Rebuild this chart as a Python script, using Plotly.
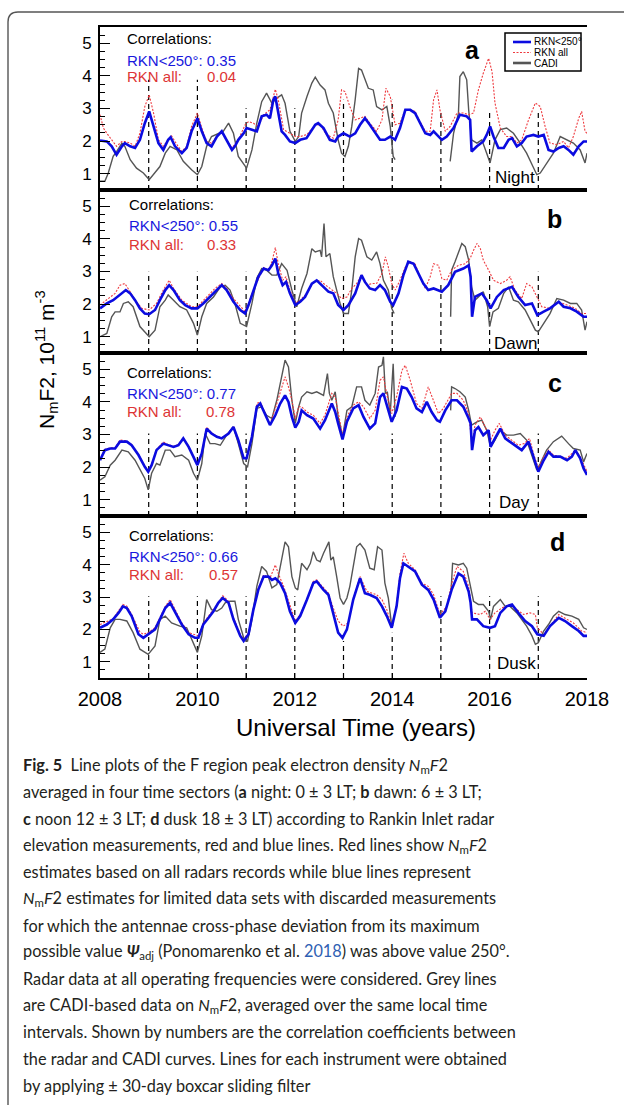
import plotly.graph_objects as go

W, H = 624, 1105

# ---------------- panel (a): night sector ----------------
A_RKN_T = [2008.00, 2008.14, 2008.24, 2008.34, 2008.45, 2008.51, 2008.62, 2008.72, 2008.82, 2008.92,
           2009.01, 2009.10, 2009.20, 2009.30, 2009.40, 2009.45, 2009.54, 2009.68, 2009.78, 2009.88,
           2010.00, 2010.09, 2010.19, 2010.29, 2010.40, 2010.50, 2010.60, 2010.71, 2010.77, 2010.84, 2010.95,
           2011.01, 2011.12, 2011.22, 2011.32, 2011.42, 2011.49, 2011.56, 2011.60, 2011.66, 2011.73, 2011.80, 2011.90,
           2012.01, 2012.11, 2012.24, 2012.42, 2012.48, 2012.59, 2012.72, 2012.83, 2012.89,
           2013.00, 2013.13, 2013.24, 2013.34, 2013.44, 2013.54, 2013.65, 2013.75, 2013.85, 2013.96,
           2014.06, 2014.16, 2014.27, 2014.37, 2014.47, 2014.57, 2014.68, 2014.78, 2014.85, 2014.92,
           2015.02, 2015.12, 2015.26, 2015.39, 2015.53, 2015.60, 2015.63, 2015.74, 2015.87, 2015.94,
           2016.01, 2016.08, 2016.18, 2016.29, 2016.39, 2016.46, 2016.56, 2016.66, 2016.76, 2016.90,
           2017.00, 2017.11, 2017.21, 2017.31, 2017.42, 2017.52, 2017.62, 2017.72, 2017.83, 2017.93,
           2018.00]
A_RKN_V = [2.02, 1.99, 1.84, 1.58, 1.84, 1.94, 1.84, 1.79, 2.04, 2.55,
           2.91, 2.45, 1.94, 1.73, 2.04, 2.12, 1.84, 1.63, 1.79, 2.30,
           2.70, 2.30, 1.94, 1.84, 2.14, 2.30, 2.04, 1.73, 1.84, 2.04, 2.24,
           2.40, 2.35, 2.30, 2.76, 2.81, 2.70, 3.27, 3.37, 2.86, 2.30, 2.19, 1.99,
           1.94, 2.04, 2.09, 2.50, 2.55, 2.40, 2.04, 1.99, 2.14,
           2.24, 2.14, 2.24, 2.50, 2.70, 2.50, 2.24, 2.04, 2.04, 2.14,
           2.04, 2.40, 2.96, 2.96, 2.86, 2.55, 2.24, 2.19, 2.30, 2.19,
           2.04, 2.14, 2.40, 2.81, 2.76, 2.65, 1.68, 1.84, 1.99, 2.19,
           2.45, 2.14, 1.79, 1.79, 2.04, 2.09, 1.84, 1.94, 2.14, 2.19,
           2.14, 2.19, 1.73, 1.68, 1.79, 1.84, 1.73, 1.58, 1.84, 1.99,
           1.99]

A_ALL_T = [2008.00, 2008.07, 2008.14, 2008.24, 2008.34, 2008.45, 2008.51, 2008.62, 2008.72, 2008.82, 2008.92,
           2009.01, 2009.10, 2009.20, 2009.30, 2009.40, 2009.47, 2009.58, 2009.68, 2009.78, 2009.88,
           2010.00, 2010.09, 2010.19, 2010.29, 2010.40, 2010.50, 2010.60, 2010.71, 2010.84, 2010.98,
           2011.05, 2011.15, 2011.25, 2011.36, 2011.49, 2011.60, 2011.66, 2011.77, 2011.90,
           2012.01, 2012.11, 2012.25, 2012.42, 2012.52, 2012.65, 2012.79, 2012.89, 2012.96,
           2013.03, 2013.13, 2013.24, 2013.34, 2013.44, 2013.54, 2013.68, 2013.79, 2013.87, 2013.96,
           2014.06, 2014.16, 2014.27, 2014.37, 2014.47, 2014.57, 2014.68, 2014.78, 2014.85, 2014.92, 2014.98,
           2015.09, 2015.19, 2015.33, 2015.46, 2015.57, 2015.67, 2015.77, 2015.87, 2015.98,
           2016.05, 2016.11, 2016.22, 2016.35, 2016.46, 2016.56, 2016.66, 2016.80, 2016.94,
           2017.04, 2017.14, 2017.24, 2017.38, 2017.52, 2017.62, 2017.72, 2017.83, 2017.89, 2017.96,
           2018.00]
A_ALL_V = [2.81, 2.40, 2.24, 2.04, 1.84, 1.99, 1.99, 1.94, 1.84, 2.24, 3.06,
           3.42, 2.86, 2.04, 1.84, 2.04, 2.16, 1.89, 1.68, 1.84, 2.45,
           2.86, 2.40, 1.99, 1.94, 2.14, 2.30, 2.04, 1.79, 2.04, 2.50,
           2.60, 2.55, 2.45, 2.81, 2.96, 3.59, 3.27, 2.35, 2.24,
           2.14, 2.14, 2.20, 2.50, 2.50, 2.20, 2.09, 2.65, 3.57,
           3.52, 3.06, 2.65, 2.70, 2.76, 2.55, 2.30, 2.65, 3.62, 3.37,
           2.50, 2.55, 2.96, 2.96, 2.91, 2.60, 2.30, 2.30, 3.27, 3.57, 2.96,
           2.30, 2.45, 2.86, 2.86, 2.81, 2.86, 3.57, 4.08, 4.54,
           4.13, 3.17, 2.40, 2.14, 2.14, 1.94, 2.04, 2.65, 3.17,
           3.06, 2.45, 1.94, 1.89, 1.99, 1.79, 2.14, 2.70, 2.91, 2.30,
           2.24]

A_CADI_T = [2008.00, 2008.10, 2008.17, 2008.27, 2008.34, 2008.45, 2008.51, 2008.62, 2008.75, 2008.89,
            2009.01, 2009.13, 2009.23, 2009.34, 2009.44, 2009.58, 2009.71, 2009.88,
            2010.00, 2010.09, 2010.19, 2010.29, 2010.43, 2010.53, 2010.64, 2010.74, 2010.84, 2010.95,
            2011.01, 2011.12, 2011.22, 2011.32, 2011.42, 2011.53, 2011.63, 2011.73, 2011.80, 2011.90,
            2012.01, 2012.08, 2012.14, 2012.25, 2012.35, 2012.42, 2012.52, 2012.62, 2012.69, 2012.79, 2012.89, 2012.96,
            2013.03, 2013.10, 2013.17, 2013.24, 2013.31, 2013.37, 2013.44, 2013.51, 2013.61, 2013.68, 2013.79, 2013.89, 2013.96,
            2014.02, 2014.06, 2014.07,
            2015.19, 2015.26, 2015.36, 2015.39, 2015.46, 2015.53, 2015.57, 2015.63, 2015.74, 2015.84, 2015.94,
            2016.01, 2016.11, 2016.22, 2016.35, 2016.49, 2016.63, 2016.76, 2016.87, 2016.97,
            2017.04, 2017.17, 2017.31, 2017.45, 2017.59, 2017.72, 2017.86, 2017.96,
            2018.00]
A_CADI_V = [0.77, 0.77, 1.02, 1.53, 1.68, 1.94, 1.84, 1.43, 1.17, 1.02,
            0.82, 1.02, 1.22, 1.63, 1.84, 1.73, 1.38, 1.12,
            0.97, 1.22, 1.84, 2.14, 2.24, 2.30, 2.55, 2.24, 1.53, 1.28,
            1.17, 1.73, 2.55, 3.21, 3.47, 3.16, 3.32, 3.42, 3.16, 2.30,
            1.99, 2.14, 2.86, 3.37, 3.78, 3.96, 3.72, 3.57, 3.16, 2.86, 2.04, 1.63,
            1.53, 1.84, 2.45, 3.27, 4.23, 4.18, 3.88, 3.62, 3.57, 3.06, 2.96, 3.06, 2.45,
            1.53, 1.43, None,
            1.38, 2.24, 2.86, 3.98, 4.13, 3.88, 2.96, 2.04, 1.94, 2.04, 1.63,
            1.33, 2.04, 2.35, 2.40, 2.24, 1.94, 1.63, 1.28, 0.97,
            1.02, 1.33, 1.63, 2.14, 2.04, 1.94, 1.73, 1.33,
            1.63]

# ---------------- panel (b): dawn sector ----------------
B_RKN_T = [2008.00, 2008.14, 2008.27, 2008.41, 2008.53, 2008.62, 2008.72, 2008.82, 2008.92,
           2009.01, 2009.13, 2009.23, 2009.34, 2009.42, 2009.51, 2009.64, 2009.75, 2009.88,
           2010.00, 2010.12, 2010.26, 2010.40, 2010.50, 2010.60, 2010.74, 2010.88, 2010.98,
           2011.05, 2011.15, 2011.25, 2011.36, 2011.46, 2011.53, 2011.60, 2011.66, 2011.75, 2011.82, 2011.90,
           2012.01, 2012.11, 2012.21, 2012.35, 2012.45, 2012.59, 2012.69, 2012.79, 2012.89,
           2013.00, 2013.10, 2013.24, 2013.37, 2013.44, 2013.54, 2013.65, 2013.75, 2013.85, 2013.96,
           2014.02, 2014.13, 2014.23, 2014.33, 2014.44, 2014.54, 2014.64, 2014.74, 2014.85,
           2015.02, 2015.15, 2015.29, 2015.46, 2015.57, 2015.61, 2015.64, 2015.70, 2015.84, 2015.94,
           2016.02, 2016.15, 2016.29, 2016.46, 2016.59, 2016.73, 2016.87, 2016.98,
           2017.11, 2017.24, 2017.42, 2017.52, 2017.66, 2017.79, 2017.93,
           2018.00]
B_RKN_V = [1.87, 2.02, 2.12, 2.28, 2.43, 2.33, 2.12, 1.87, 1.71,
           1.69, 1.82, 2.12, 2.43, 2.58, 2.43, 2.12, 1.97, 1.87,
           1.87, 2.02, 2.22, 2.43, 2.58, 2.43, 2.07, 1.82, 1.71,
           1.97, 2.43, 2.84, 3.09, 3.04, 3.19, 3.40, 2.94, 2.58, 2.68, 2.33,
           1.97, 2.07, 2.22, 2.63, 2.73, 2.53, 2.38, 2.33, 1.97,
           1.82, 1.97, 2.33, 2.89, 2.68, 2.48, 2.43, 2.58, 2.43, 2.07,
           1.97, 2.33, 2.89, 3.30, 3.24, 2.94, 2.63, 2.43, 2.48,
           2.38, 2.58, 2.99, 3.09, 3.19, 2.84, 1.61, 2.22, 2.33, 2.12,
           1.87, 2.22, 2.43, 2.53, 2.22, 1.97, 2.02, 1.66,
           1.77, 1.87, 2.07, 1.92, 1.87, 1.77, 1.61,
           1.61]

B_ALL_T = [2008.00, 2008.14, 2008.31, 2008.41, 2008.51, 2008.62, 2008.72, 2008.86,
           2009.01, 2009.16, 2009.30, 2009.42, 2009.51, 2009.68, 2009.88,
           2010.00, 2010.19, 2010.36, 2010.50, 2010.60, 2010.74, 2010.98,
           2011.15, 2011.36, 2011.46, 2011.53, 2011.60, 2011.66, 2011.75, 2011.82, 2011.90,
           2012.01, 2012.11, 2012.25, 2012.38, 2012.52, 2012.59, 2012.72, 2012.86, 2012.96,
           2013.07, 2013.17, 2013.27, 2013.37, 2013.48, 2013.58, 2013.68, 2013.79, 2013.86, 2013.92, 2013.99,
           2014.06, 2014.16, 2014.27, 2014.37, 2014.47, 2014.57, 2014.68, 2014.78, 2014.85, 2014.95,
           2015.02, 2015.12, 2015.22, 2015.36, 2015.50, 2015.60, 2015.67, 2015.74, 2015.81, 2015.87, 2015.98,
           2016.08, 2016.22, 2016.35, 2016.42, 2016.52, 2016.66, 2016.76, 2016.87, 2016.97,
           2017.07, 2017.24, 2017.42, 2017.59, 2017.76, 2017.89,
           2018.00]
B_ALL_V = [1.97, 2.12, 2.33, 2.58, 2.63, 2.38, 2.12, 1.87,
           1.82, 2.02, 2.43, 2.73, 2.48, 2.12, 1.92,
           1.92, 2.22, 2.48, 2.63, 2.48, 2.17, 1.77,
           2.43, 3.12, 3.04, 3.30, 3.73, 3.24, 2.73, 2.84, 2.43,
           2.02, 2.12, 2.33, 2.68, 2.73, 2.63, 2.48, 2.33, 2.17,
           2.22, 2.48, 2.63, 2.89, 2.58, 2.63, 2.63, 2.94, 3.45, 3.14, 2.63,
           2.43, 2.73, 3.14, 3.30, 3.24, 2.84, 2.48, 2.84, 3.24, 3.19,
           2.78, 2.73, 3.04, 3.19, 3.24, 3.40, 3.65, 3.86, 3.70, 3.35, 3.04,
           2.73, 2.63, 2.73, 2.84, 2.43, 2.17, 2.63, 2.53, 2.22,
           1.92, 1.87, 2.07, 1.97, 1.87, 1.71,
           1.71]

B_CADI_T = [2008.00, 2008.14, 2008.24, 2008.31, 2008.41, 2008.48, 2008.58, 2008.68, 2008.82, 2008.96,
            2009.01, 2009.13, 2009.23, 2009.34, 2009.40, 2009.51, 2009.64, 2009.78, 2009.92,
            2010.00, 2010.09, 2010.19, 2010.33, 2010.47, 2010.57, 2010.67, 2010.77, 2010.88,
            2011.01, 2011.12, 2011.22, 2011.32, 2011.42, 2011.53, 2011.63, 2011.73, 2011.84, 2011.94,
            2012.04, 2012.14, 2012.25, 2012.35, 2012.42, 2012.52, 2012.55, 2012.60, 2012.64, 2012.72, 2012.79, 2012.86, 2012.93,
            2013.00, 2013.10, 2013.17, 2013.24, 2013.31, 2013.37, 2013.48, 2013.58, 2013.68, 2013.75, 2013.82, 2013.92, 2013.99,
            2014.04, 2014.05,
            2015.20, 2015.22, 2015.29, 2015.36, 2015.43, 2015.50, 2015.57, 2015.63, 2015.70, 2015.77, 2015.87, 2015.96,
            2016.00, 2016.07, 2016.18, 2016.29, 2016.39, 2016.49, 2016.59, 2016.73, 2016.83, 2016.94,
            2017.00, 2017.11, 2017.24, 2017.38, 2017.52, 2017.66, 2017.79, 2017.89, 2017.96,
            2018.00]
B_CADI_V = [1.00, 1.10, 1.61, 1.76, 1.76, 2.02, 2.07, 1.92, 1.31, 1.10,
            1.00, 1.20, 1.92, 2.12, 2.28, 2.12, 1.92, 1.82, 1.41,
            1.05, 1.61, 2.02, 2.22, 2.53, 2.58, 2.43, 2.02, 1.41,
            1.31, 2.02, 2.79, 3.09, 3.04, 2.89, 2.89, 3.24, 3.04, 2.43,
            1.92, 2.48, 2.94, 3.70, 3.60, 3.65, 3.45, 4.47, 3.45, 3.55, 2.84, 2.43, 2.02,
            1.71, 1.71, 2.43, 3.45, 4.01, 3.96, 3.45, 3.35, 3.60, 3.24, 2.73, 2.43, 1.87,
            1.71, None,
            1.61, 3.04, 3.30, 3.60, 3.86, 3.76, 3.35, 2.53, 2.12, 2.22, 2.38, 1.92,
            1.31, 1.76, 1.87, 2.33, 2.53, 2.12, 2.07, 1.82, 1.51, 1.20,
            1.15, 1.41, 1.71, 2.17, 2.12, 2.02, 2.02, 1.82, 1.20,
            1.46]

# ---------------- panel (c): noon sector ----------------
C_RKN_T = [2008.00, 2008.10, 2008.21, 2008.31, 2008.41, 2008.55, 2008.65, 2008.79, 2008.92, 2008.99,
           2009.06, 2009.16, 2009.30, 2009.40, 2009.51, 2009.61, 2009.71, 2009.82, 2009.92,
           2010.00, 2010.09, 2010.19, 2010.29, 2010.40, 2010.50, 2010.64, 2010.74, 2010.84, 2010.95,
           2011.01, 2011.12, 2011.22, 2011.29, 2011.39, 2011.49, 2011.60, 2011.70, 2011.80, 2011.87, 2011.94,
           2012.01, 2012.08, 2012.14, 2012.25, 2012.38, 2012.52, 2012.62, 2012.76, 2012.83, 2012.89, 2012.98,
           2013.07, 2013.20, 2013.31, 2013.41, 2013.54, 2013.65, 2013.75, 2013.82, 2013.90, 2013.99,
           2014.09, 2014.20, 2014.30, 2014.40, 2014.50, 2014.61, 2014.71, 2014.81, 2014.92, 2014.98,
           2015.09, 2015.22, 2015.33, 2015.46, 2015.57, 2015.61, 2015.64, 2015.70, 2015.77, 2015.87, 2015.98,
           2016.02, 2016.11, 2016.22, 2016.32, 2016.42, 2016.56, 2016.66, 2016.80, 2016.90,
           2017.00, 2017.11, 2017.21, 2017.31, 2017.45, 2017.59, 2017.69, 2017.76, 2017.86, 2017.93,
           2018.00]
C_RKN_V = [2.21, 2.52, 2.57, 2.57, 2.78, 2.78, 2.67, 2.37, 2.01, 1.86,
           2.06, 2.52, 2.72, 2.67, 2.62, 2.67, 2.88, 2.62, 2.32,
           2.06, 2.42, 3.18, 3.03, 2.93, 2.88, 3.03, 3.23, 2.83, 2.27,
           2.27, 2.93, 3.85, 3.95, 3.64, 3.29, 3.59, 3.95, 4.20, 4.00, 3.54,
           3.21, 3.39, 3.74, 3.59, 3.49, 3.18, 3.44, 3.95, 3.69, 3.34, 2.85,
           3.39, 3.80, 3.90, 3.54, 3.18, 3.34, 4.15, 4.26, 3.85, 3.39,
           3.74, 4.46, 4.41, 4.15, 3.80, 3.69, 4.00, 3.69, 3.44, 3.39,
           3.74, 4.05, 4.05, 3.85, 3.49, 3.34, 2.52, 3.13, 3.23, 2.98, 3.13,
           2.62, 2.88, 3.18, 2.88, 2.78, 2.62, 2.52, 2.78, 2.32,
           1.86, 2.21, 2.47, 2.32, 2.32, 2.21, 2.32, 2.52, 2.27, 1.96,
           1.76]

C_ALL_T = [2008.00, 2008.10, 2008.21, 2008.31, 2008.41, 2008.55, 2008.65, 2008.79, 2008.92, 2008.99,
           2009.06, 2009.16, 2009.30, 2009.40, 2009.51, 2009.61, 2009.71, 2009.82, 2009.92,
           2010.00, 2010.09, 2010.19, 2010.29, 2010.40, 2010.50, 2010.64, 2010.74, 2010.84, 2010.95,
           2011.01, 2011.12, 2011.22, 2011.29, 2011.39, 2011.49, 2011.60, 2011.73, 2011.80, 2011.87, 2011.94,
           2012.01, 2012.08, 2012.14, 2012.25, 2012.38, 2012.52, 2012.62, 2012.76, 2012.83, 2012.89, 2012.98,
           2013.07, 2013.20, 2013.31, 2013.41, 2013.54, 2013.65, 2013.75, 2013.82, 2013.90, 2013.99,
           2014.09, 2014.20, 2014.27, 2014.37, 2014.50, 2014.61, 2014.74, 2014.85, 2014.95,
           2015.05, 2015.22, 2015.33, 2015.46, 2015.57, 2015.64, 2015.70, 2015.81, 2015.91,
           2016.02, 2016.11, 2016.20, 2016.32, 2016.46, 2016.59, 2016.71, 2016.82, 2016.90,
           2017.00, 2017.11, 2017.21, 2017.31, 2017.59, 2017.76, 2017.86,
           2018.00]
C_ALL_V = [2.23, 2.54, 2.59, 2.59, 2.83, 2.80, 2.69, 2.39, 2.03, 1.88,
           2.08, 2.54, 2.77, 2.69, 2.64, 2.69, 2.90, 2.64, 2.34,
           2.08, 2.44, 3.23, 3.05, 2.95, 2.90, 3.05, 3.25, 2.85, 2.29,
           2.29, 2.95, 3.95, 4.00, 3.67, 3.31, 3.80, 4.46, 4.77, 4.46, 4.05,
           3.49, 3.85, 3.85, 3.69, 3.59, 3.34, 3.60, 4.26, 4.15, 3.64, 2.98,
           3.54, 3.90, 4.00, 3.85, 3.49, 3.74, 4.66, 4.77, 4.15, 3.64,
           4.15, 4.97, 5.12, 4.66, 3.95, 3.80, 4.46, 4.05, 3.64,
           3.80, 4.26, 4.26, 4.05, 3.64, 2.67, 3.29, 3.54, 3.23,
           2.83, 3.13, 3.34, 2.98, 2.83, 2.67, 2.72, 2.88, 2.42,
           1.96, 2.32, 2.52, 2.37, 2.27, 2.52, 2.32,
           1.86]

C_CADI_T = [2008.00, 2008.10, 2008.21, 2008.31, 2008.45, 2008.58, 2008.72, 2008.82, 2008.92, 2008.99,
            2009.06, 2009.16, 2009.23, 2009.34, 2009.44, 2009.54, 2009.68, 2009.82, 2009.92,
            2010.00, 2010.09, 2010.16, 2010.26, 2010.36, 2010.47, 2010.60, 2010.74, 2010.84, 2010.95,
            2011.03, 2011.12, 2011.22, 2011.32, 2011.42, 2011.53, 2011.63, 2011.73, 2011.80, 2011.87, 2011.94,
            2012.01, 2012.08, 2012.14, 2012.25, 2012.35, 2012.45, 2012.59, 2012.67, 2012.71, 2012.76, 2012.83, 2012.89, 2012.94, 2012.98,
            2013.07, 2013.17, 2013.27, 2013.37, 2013.44, 2013.54, 2013.65, 2013.72, 2013.79, 2013.82, 2013.86, 2013.90, 2013.96,
            2014.02, 2014.06, 2014.07,
            2015.20, 2015.22, 2015.29, 2015.39, 2015.50, 2015.57, 2015.63, 2015.74, 2015.84, 2015.94,
            2016.02, 2016.11, 2016.22, 2016.35, 2016.49, 2016.63, 2016.76, 2016.87, 2016.97,
            2017.04, 2017.17, 2017.31, 2017.48, 2017.62, 2017.72, 2017.86, 2017.93,
            2018.00]
C_CADI_V = [1.60, 1.70, 2.06, 2.21, 2.52, 2.47, 2.21, 1.91, 1.65, 1.30,
            1.81, 2.11, 2.06, 2.52, 2.52, 2.32, 2.37, 2.21, 1.81,
            1.60, 2.11, 3.03, 2.72, 2.72, 2.67, 2.98, 3.23, 2.72, 2.11,
            2.01, 2.72, 3.80, 3.85, 3.59, 3.49, 4.05, 4.82, 5.28, 5.07, 4.05,
            3.34, 3.85, 4.15, 4.31, 4.26, 4.31, 4.20, 4.87, 4.26, 4.05, 4.31, 3.54, 3.23, 2.93,
            3.74, 3.85, 4.46, 4.46, 4.05, 3.90, 4.26, 5.07, 5.12, 5.38, 4.26, 4.31, 3.64,
            5.17, 3.54, None,
            3.74, 4.46, 4.41, 4.31, 4.15, 3.74, 3.29, 3.39, 3.44, 3.13,
            2.62, 2.83, 3.13, 2.98, 2.98, 3.03, 2.83, 2.32, 1.91,
            2.11, 2.52, 2.78, 2.95, 2.72, 2.57, 2.52, 2.16,
            2.42]

# ---------------- panel (d): dusk sector ----------------
D_RKN_T = [2008.00, 2008.14, 2008.27, 2008.38, 2008.47, 2008.55, 2008.65, 2008.79, 2008.89, 2008.99,
           2009.13, 2009.23, 2009.34, 2009.44, 2009.54, 2009.68, 2009.82, 2009.95,
           2010.02, 2010.12, 2010.23, 2010.33, 2010.43, 2010.52, 2010.64, 2010.74, 2010.88, 2010.95,
           2011.05, 2011.15, 2011.25, 2011.36, 2011.46, 2011.53, 2011.60, 2011.70, 2011.80, 2011.90,
           2012.01, 2012.11, 2012.25, 2012.38, 2012.45, 2012.52, 2012.59, 2012.69, 2012.79, 2012.89, 2012.98,
           2013.07, 2013.20, 2013.34, 2013.44, 2013.54, 2013.68, 2013.79, 2013.89, 2013.99,
           2014.09, 2014.16, 2014.23, 2014.33, 2014.47, 2014.61, 2014.74, 2014.85, 2014.98,
           2015.09, 2015.22, 2015.36, 2015.46, 2015.57, 2015.61, 2015.64, 2015.74, 2015.87,
           2016.01, 2016.11, 2016.22, 2016.35, 2016.46, 2016.59, 2016.73, 2016.87, 2016.98,
           2017.11, 2017.24, 2017.42, 2017.55, 2017.69, 2017.83, 2017.93,
           2018.00]
D_RKN_V = [2.05, 2.15, 2.31, 2.51, 2.71, 2.66, 2.41, 1.85, 1.74, 1.85,
           2.00, 2.31, 2.66, 2.82, 2.56, 2.15, 1.85, 1.74,
           1.74, 2.15, 2.36, 2.56, 2.82, 2.97, 2.82, 2.31, 1.80, 1.64,
           1.85, 2.61, 3.22, 3.63, 3.63, 3.53, 3.58, 3.43, 3.12, 2.56,
           2.20, 2.41, 2.92, 3.43, 3.48, 3.33, 3.22, 3.07, 2.51, 1.90, 1.74,
           2.00, 2.92, 3.58, 3.12, 3.07, 2.97, 2.71, 2.41, 2.05,
           2.71, 3.58, 4.04, 3.94, 3.79, 3.38, 3.22, 2.92, 2.36,
           2.56, 3.22, 3.73, 3.63, 3.17, 2.82, 2.31, 2.31, 2.10,
           2.05, 2.10, 2.51, 2.71, 2.77, 2.51, 2.26, 2.10, 1.85,
           1.80, 2.10, 2.36, 2.26, 2.10, 1.95, 1.80,
           1.80]

D_ALL_T = [2008.00, 2008.27, 2008.47, 2008.55, 2008.65, 2008.82, 2008.89, 2008.99,
           2009.13, 2009.23, 2009.34, 2009.44, 2009.54, 2009.68, 2009.82, 2009.95,
           2010.02, 2010.12, 2010.33, 2010.52, 2010.64, 2010.74, 2010.88, 2010.95,
           2011.05, 2011.15, 2011.25, 2011.36, 2011.49, 2011.60, 2011.66, 2011.77, 2011.90,
           2012.01, 2012.11, 2012.25, 2012.38, 2012.45, 2012.52, 2012.69, 2012.79, 2012.89, 2012.99,
           2013.10, 2013.20, 2013.34, 2013.48, 2013.68, 2013.79, 2013.89, 2013.99,
           2014.09, 2014.16, 2014.24, 2014.33, 2014.47, 2014.61, 2014.74, 2014.85, 2014.98,
           2015.12, 2015.22, 2015.33, 2015.46, 2015.57, 2015.64, 2015.81, 2015.91,
           2016.01, 2016.11, 2016.25, 2016.42, 2016.56, 2016.70, 2016.83, 2016.94, 2016.98,
           2017.11, 2017.24, 2017.42, 2017.59, 2017.72, 2017.89,
           2018.00]
D_ALL_V = [2.15, 2.33, 2.77, 2.72, 2.46, 1.92, 1.85, 1.90,
           2.05, 2.36, 2.71, 2.92, 2.62, 2.20, 1.90, 1.85,
           1.80, 2.20, 2.61, 3.04, 2.87, 2.36, 1.85, 1.69,
           1.90, 2.66, 3.27, 3.68, 3.58, 3.99, 3.73, 3.33, 2.71,
           2.26, 2.46, 2.92, 3.48, 3.53, 3.40, 3.12, 2.66, 2.26, 2.10,
           2.20, 2.97, 3.63, 3.17, 3.07, 2.92, 2.61, 2.10,
           2.75, 3.73, 4.35, 4.04, 3.84, 3.43, 3.33, 3.07, 2.46,
           2.71, 3.40, 3.94, 3.79, 3.33, 2.51, 2.46, 2.56,
           2.31, 2.51, 2.66, 2.77, 2.61, 2.46, 2.51, 2.46, 2.05,
           1.85, 2.10, 2.46, 2.31, 2.20, 1.95,
           1.90]

D_CADI_T = [2008.00, 2008.10, 2008.21, 2008.31, 2008.41, 2008.55, 2008.68, 2008.82, 2008.99,
            2009.13, 2009.23, 2009.34, 2009.47, 2009.64, 2009.78, 2009.92,
            2010.00, 2010.09, 2010.19, 2010.29, 2010.40, 2010.50, 2010.57, 2010.67, 2010.77, 2010.84, 2010.95,
            2011.03, 2011.12, 2011.22, 2011.32, 2011.42, 2011.53, 2011.63, 2011.73, 2011.80, 2011.87, 2011.94,
            2012.01, 2012.06, 2012.14, 2012.25, 2012.32, 2012.38, 2012.45, 2012.52, 2012.59, 2012.65, 2012.70, 2012.74, 2012.79, 2012.86, 2012.93,
            2013.00, 2013.07, 2013.13, 2013.20, 2013.27, 2013.34, 2013.44, 2013.54, 2013.63, 2013.70, 2013.79, 2013.85, 2013.92, 2013.99,
            2014.02, 2014.03,
            2015.21, 2015.24, 2015.36, 2015.46, 2015.53, 2015.60, 2015.67, 2015.77, 2015.87, 2015.98,
            2016.02, 2016.08, 2016.15, 2016.22, 2016.32, 2016.42, 2016.56, 2016.66, 2016.76, 2016.87, 2016.94,
            2017.00, 2017.11, 2017.21, 2017.31, 2017.42, 2017.55, 2017.69, 2017.83, 2017.93,
            2018.00]
D_CADI_V = [1.29, 1.39, 2.05, 2.31, 2.31, 2.26, 1.90, 1.39, 1.23,
            1.49, 2.31, 2.41, 2.20, 2.10, 2.05, 1.59,
            1.29, 1.80, 2.92, 2.61, 2.56, 2.66, 2.82, 2.87, 2.87, 2.31, 1.74,
            1.64, 2.31, 3.33, 3.94, 3.79, 3.28, 3.38, 4.14, 4.70, 4.55, 3.63,
            3.28, 3.22, 4.04, 3.84, 4.04, 4.40, 4.14, 4.09, 4.35, 4.55, 4.70, 4.14, 4.24, 3.63, 2.97,
            2.77, 2.97, 3.33, 3.89, 4.55, 4.65, 4.45, 3.89, 3.84, 4.55, 4.45, 3.43, 2.97, 2.10,
            2.15, None,
            3.22, 4.04, 3.99, 4.04, 3.89, 3.33, 2.87, 2.77, 2.77, 2.56,
            2.31, 2.71, 2.82, 2.92, 2.71, 2.71, 2.51, 2.31, 2.10, 1.80, 1.54,
            1.59, 1.95, 2.15, 2.41, 2.56, 2.46, 2.41, 2.31, 2.05,
            2.00]

# ---------------- annotations per panel ----------------
PANEL_LETTERS = ["a", "b", "c", "d"]
SECTORS = ["Night", "Dawn", "Day", "Dusk"]
CORR_RKN250 = ["0.35", "0.55", "0.77", "0.66"]
CORR_ALL = ["0.04", "0.33", "0.78", "0.57"]

# winter markers (1 January of each year), with the height each dashed mark reaches
WINTER_YEARS = [2009, 2010, 2011, 2012, 2013, 2014, 2015, 2016, 2017]
WINTER_MARK_TOP = [
    [3.88, 3.88, 3.01, 3.01, 3.27, 3.27, 2.96, 2.96, 2.96],
    [2.99, 2.99, 2.99, 2.99, 2.99, 2.99, 2.60, 2.99, 2.99],
    [3.03, 3.03, 3.03, 2.62, 2.67, 3.03, 3.03, 3.03, 3.03],
    [3.02, 3.02, 3.02, 3.02, 1.64, 1.90, 3.02, 3.02, 3.02],
]

X_TICKS = list(range(2008, 2019))
Y_MAJOR = [1, 2, 3, 4, 5]

SERIES = [
    (A_RKN_T, A_RKN_V, A_ALL_T, A_ALL_V, A_CADI_T, A_CADI_V),
    (B_RKN_T, B_RKN_V, B_ALL_T, B_ALL_V, B_CADI_T, B_CADI_V),
    (C_RKN_T, C_RKN_V, C_ALL_T, C_ALL_V, C_CADI_T, C_CADI_V),
    (D_RKN_T, D_RKN_V, D_ALL_T, D_ALL_V, D_CADI_T, D_CADI_V),
]
for group in SERIES:
    for t, v in zip(group[0::2], group[1::2]):
        assert len(t) == len(v), (len(t), len(v))

# ---------------- styling ----------------
BLUE = "#0b0be0"
RED = "#ee3a3f"
GREY = "#555555"
TXT_BLUE = "#1818dd"
TXT_RED = "#dd3535"
SANS = "Liberation Sans, Arial, sans-serif"
CAPTION_FONT = "Lato, sans-serif"

PLOT_L, PLOT_R = 100, 587
EDGES = [27, 190, 353, 516, 678]


def fx(px):
    return px / W


def fy(py):
    return 1 - py / H


fig = go.Figure()

for i in range(4):
    n = "" if i == 0 else str(i + 1)
    xr, yr = "x" + n, "y" + n
    rkn_t, rkn_v, all_t, all_v, cadi_t, cadi_v = SERIES[i]

    mx, my = [], []
    for yrk, top in zip(WINTER_YEARS, WINTER_MARK_TOP[i]):
        mx += [yrk, yrk, None]
        my += [0.5, top, None]
    fig.add_trace(go.Scatter(x=mx, y=my, mode="lines", xaxis=xr, yaxis=yr,
                             line=dict(color="black", width=1.2, dash="5px,4px"),
                             hoverinfo="skip", showlegend=False))
    fig.add_trace(go.Scatter(x=cadi_t, y=cadi_v, mode="lines", name="CADI",
                             xaxis=xr, yaxis=yr, connectgaps=False,
                             line=dict(color=GREY, width=1.4), showlegend=False))
    fig.add_trace(go.Scatter(x=all_t, y=all_v, mode="lines", name="RKN all",
                             xaxis=xr, yaxis=yr,
                             line=dict(color=RED, width=1.1, dash="2px,1.5px"), showlegend=False))
    fig.add_trace(go.Scatter(x=rkn_t, y=rkn_v, mode="lines", name="RKN<250°",
                             xaxis=xr, yaxis=yr,
                             line=dict(color=BLUE, width=2.6), showlegend=False))

    top, bot = EDGES[i], EDGES[i + 1]
    dom_y = [fy(bot), fy(top)]
    last = i == 3
    fig.layout["xaxis" + n] = dict(
        domain=[fx(PLOT_L), fx(PLOT_R)], range=[2008, 2018], anchor=yr,
        showline=True, linecolor="black", linewidth=2, mirror=True,
        ticks="inside", ticklen=5, tickwidth=1.2, tickcolor="black",
        tickvals=X_TICKS,
        ticktext=[str(t) if (last and t % 2 == 0) else "" for t in X_TICKS],
        showticklabels=last, ticklabelstandoff=2,
        tickfont=dict(family=SANS, size=20, color="black"),
        showgrid=False, zeroline=False, automargin=False)
    fig.layout["yaxis" + n] = dict(
        domain=dom_y, range=[0.5, 5.5], anchor=xr,
        showline=True, linecolor="black", linewidth=2,
        ticks="inside", ticklen=10, tickwidth=1.2, tickcolor="black",
        tickvals=Y_MAJOR, ticklabelstandoff=3,
        minor=dict(ticks="inside", ticklen=5, tickwidth=1, tickcolor="black",
                   tick0=0.5, dtick=0.25),
        tickfont=dict(family=SANS, size=17, color="black"),
        showgrid=False, zeroline=False, automargin=False)
    fig.layout["yaxis" + str(i + 5)] = dict(
        domain=dom_y, range=[0.5, 5.5], anchor=xr, overlaying=yr, side="right",
        showline=True, linecolor="black", linewidth=2,
        ticks="outside", ticklen=5, tickwidth=1, tickcolor="black",
        tick0=0.5, dtick=0.25, showticklabels=False,
        showgrid=False, zeroline=False, automargin=False)

annotations = []


def note(text, px, py, size, color="black", anchor="left", bold=False, family=SANS, angle=0):
    if bold:
        text = "<b>" + text + "</b>"
    annotations.append(dict(text=text, x=fx(px), y=fy(py), xref="paper", yref="paper",
                            xanchor=anchor, yanchor="middle", showarrow=False, textangle=angle,
                            font=dict(family=family, size=size, color=color)))


# correlation blocks
CORR_ROWS = [(39, 60, 77), (204, 226, 244), (372, 393, 411), (535, 556, 574)]
CORR_X = [(125, 205), (127, 205), (125, 204), (127, 207)]
for i in range(4):
    r0, r1, r2 = CORR_ROWS[i]
    x0, xnum = CORR_X[i]
    note("Correlations:", x0, r0, 15)
    note("RKN&lt;250°: " + CORR_RKN250[i], x0, r1, 15, TXT_BLUE)
    note("RKN all:", x0, r2, 15, TXT_RED)
    note(CORR_ALL[i], xnum, r2, 15, TXT_RED)

LETTER_POS = [(472, 50), (554, 219), (555, 383), (557, 542)]
for (lx, ly), letter in zip(LETTER_POS, PANEL_LETTERS):
    note(letter, lx, ly, 25, anchor="center", bold=True)

SECTOR_POS = [(493, 178), (492, 343), (497, 503), (495, 663)]
for (sx, sy), name in zip(SECTOR_POS, SECTORS):
    note(name, sx, sy, 17)

# axis titles
note("N<sub>m</sub>F2, 10<sup>11</sup> m<sup>-3</sup>", 47, 360, 21, anchor="center", angle=-90)
note("Universal Time (years)", 356, 727, 24, anchor="center")

# legend box
shapes = [
    dict(type="rect", xref="paper", yref="paper", x0=fx(505), x1=fx(581), y0=fy(71), y1=fy(33),
         line=dict(color="black", width=1.5), fillcolor="white", layer="above"),
    dict(type="line", xref="paper", yref="paper", x0=fx(513), x1=fx(531), y0=fy(42), y1=fy(42),
         line=dict(color=BLUE, width=2.6), layer="above"),
    dict(type="line", xref="paper", yref="paper", x0=fx(513), x1=fx(531), y0=fy(52.5), y1=fy(52.5),
         line=dict(color=RED, width=1.2, dash="2px,1.5px"), layer="above"),
    dict(type="line", xref="paper", yref="paper", x0=fx(513), x1=fx(531), y0=fy(63), y1=fy(63),
         line=dict(color=GREY, width=2.6), layer="above"),
]
note("RKN&lt;250°", 532, 42, 10)
note("RKN all", 532, 52.5, 10)
note("CADI", 532, 63, 10)

# outer frame of the figure box
frame = "M {a},{b} L {a},{c} Q {a},{d} {e},{d} L {f},{d}".format(
    a=fx(8), b=fy(H), c=fy(22), d=fy(12), e=fx(18), f=fx(W))
shapes.append(dict(type="path", xref="paper", yref="paper", path=frame,
                   line=dict(color="#555555", width=1.4)))

# caption
CAPTION = [
    "<b>Fig. 5</b>&nbsp;&nbsp;Line plots of the F region peak electron density <i>N</i><sub>m</sub><i>F</i>2",
    "averaged in four time sectors (<b>a</b> night: 0 ± 3 LT; <b>b</b> dawn: 6 ± 3 LT;",
    "<b>c</b> noon 12 ± 3 LT; <b>d</b> dusk 18 ± 3 LT) according to Rankin Inlet radar",
    "elevation measurements, red and blue lines. Red lines show <i>N</i><sub>m</sub><i>F</i>2",
    "estimates based on all radars records while blue lines represent",
    "<i>N</i><sub>m</sub><i>F</i>2 estimates for limited data sets with discarded measurements",
    "for which the antennae cross-phase deviation from its maximum",
    "possible value <b><i>Ψ</i></b><sub>adj</sub> (Ponomarenko et al. <span style='color:#2f5fb3'>2018</span>) was above value 250°.",
    "Radar data at all operating frequencies were considered. Grey lines",
    "are CADI-based data on <i>N</i><sub>m</sub><i>F</i>2, averaged over the same local time",
    "intervals. Shown by numbers are the correlation coefficients between",
    "the radar and CADI curves. Lines for each instrument were obtained",
    "by applying ± 30-day boxcar sliding filter",
]
for k, line in enumerate(CAPTION):
    note(line, 21, 765 + k * 26.67, 16.3, color="#231f20", family=CAPTION_FONT)

fig.update_layout(
    width=W, height=H, margin=dict(l=0, r=0, t=0, b=0),
    paper_bgcolor="white", plot_bgcolor="white",
    showlegend=False, annotations=annotations, shapes=shapes,
)

fig.write_html("out.html")
